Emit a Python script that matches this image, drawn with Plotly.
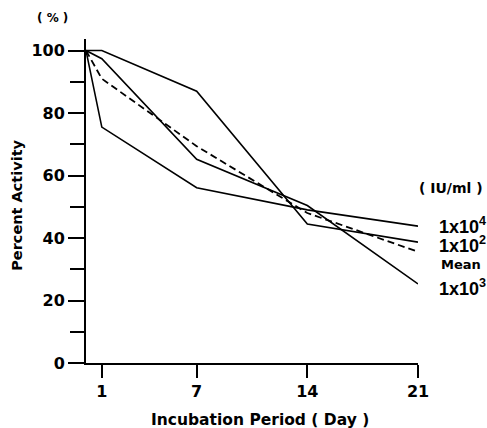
import plotly.graph_objects as go

days = [0, 1, 7, 14, 21]
s_1e2 = [100, 100, 87, 44.5, 38.7]
s_1e3 = [100, 97.4, 65.2, 50.4, 25.3]
s_1e4 = [100, 75.5, 56.1, 49.0, 43.8]
s_mean = [100, 91.0, 69.4, 48.0, 35.6]

x_ticks = [1, 7, 14, 21]
y_ticks = [0, 20, 40, 60, 80, 100]
y_minor = [10, 30, 50, 70, 90]

FONT = "DejaVu Sans"
FONT2 = "Liberation Sans"
fig = go.Figure()
for ys in (s_1e2, s_1e3, s_1e4):
    fig.add_trace(go.Scatter(x=days, y=ys, mode="lines",
                             line=dict(color="black", width=1.6), showlegend=False))
fig.add_trace(go.Scatter(x=days, y=s_mean, mode="lines",
                         line=dict(color="black", width=1.8, dash="7px,4px"), showlegend=False))

fig.update_layout(
    width=487, height=428,
    margin=dict(l=86, r=69, t=39, b=65),
    paper_bgcolor="white", plot_bgcolor="white",
    font=dict(family=FONT, color="black", size=15, weight="bold"),
    xaxis=dict(range=[0, 21], showgrid=False, zeroline=False, showline=True,
               linecolor="black", linewidth=2, tickvals=x_ticks,
               ticks="outside", ticklen=13, tickwidth=2, tickcolor="black",
               tickfont=dict(size=16, family=FONT, weight="bold")),
    yaxis=dict(range=[0, 103.7], showgrid=False, zeroline=False, showline=True,
               linecolor="black", linewidth=2, tickvals=y_ticks,
               ticks="outside", ticklen=16, tickwidth=2, tickcolor="black",
               tickfont=dict(size=16, family=FONT, weight="bold"),
               minor=dict(tickvals=y_minor, ticks="outside", ticklen=14,
                          tickwidth=2, tickcolor="black")),
)

def ann(text, x, y, size, xref="paper", yref="paper", xanchor="center", yanchor="middle",
        angle=0, family=FONT):
    fig.add_annotation(text=text, x=x, y=y, xref=xref, yref=yref, showarrow=False,
                       xanchor=xanchor, yanchor=yanchor, textangle=angle,
                       font=dict(size=size, family=family, weight="bold", color="black"))

ann("( % )", -0.102, 1.065, 12)
ann("Percent Activity", -0.208, 0.488, 14.5, angle=-90)
ann("Incubation Period ( Day )", 0.524, -0.176, 15.5)
ann("( IU/ml )", 1.099, 55.9, 14, yref="y")
ann("<b>1x10<sup>4</sup></b>", 1.057, 44.0, 18, yref="y", xanchor="left", family=FONT2)
ann("<b>1x10<sup>2</sup></b>", 1.057, 37.9, 18, yref="y", xanchor="left", family=FONT2)
ann("Mean", 1.063, 31.5, 13, yref="y", xanchor="left")
ann("<b>1x10<sup>3</sup></b>", 1.057, 24.1, 18, yref="y", xanchor="left", family=FONT2)

fig.write_html("out.html", config={"displayModeBar": False},
               post_script="document.body.style.margin='0';")
